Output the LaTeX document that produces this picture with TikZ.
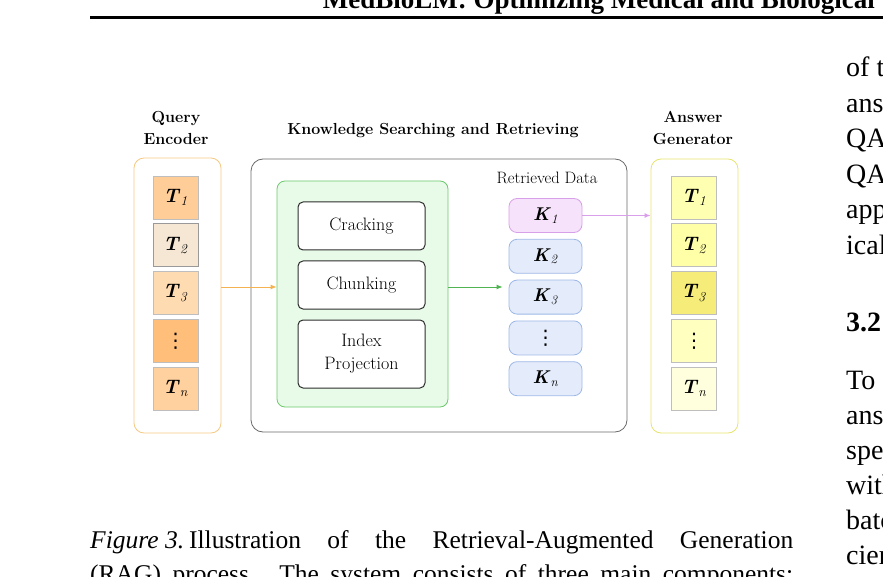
\documentclass[tikz,border=0pt]{standalone}
\usepackage{fontspec}
\usepackage{xcolor}
\usepackage{tikz}
\usetikzlibrary{arrows.meta,positioning}
\newfontfamily\paperfont{Liberation Serif}
\newfontfamily\symfont{DejaVu Sans}
\definecolor{qline}{RGB}{245,200,130}
\definecolor{aline}{RGB}{232,226,110}
\definecolor{tokline}{RGB}{190,190,190}
\definecolor{outerline}{RGB}{105,105,105}
\definecolor{greenline}{RGB}{110,200,110}
\definecolor{greenfill}{RGB}{232,251,232}
\definecolor{darkline}{RGB}{45,45,45}
\definecolor{kblue}{RGB}{228,235,250}
\definecolor{kblueline}{RGB}{158,184,232}
\definecolor{kpink}{RGB}{246,226,250}
\definecolor{kpinkline}{RGB}{215,160,232}
\definecolor{qone}{RGB}{255,205,152}
\definecolor{qtwo}{RGB}{245,231,212}
\definecolor{qthree}{RGB}{255,219,178}
\definecolor{qdots}{RGB}{255,190,122}
\definecolor{qn}{RGB}{255,209,158}
\definecolor{aone}{RGB}{255,255,178}
\definecolor{atwo}{RGB}{255,255,168}
\definecolor{athree}{RGB}{246,236,122}
\definecolor{adots}{RGB}{255,255,192}
\definecolor{an}{RGB}{255,255,222}
\definecolor{orangearrow}{RGB}{245,178,80}
\definecolor{greenarrow}{RGB}{80,180,80}
\definecolor{violetarrow}{RGB}{215,160,232}
\newcommand{\tok}[2]{\textbf{\textit{#1}}\textsubscript{\textit{#2}}}
\newcommand{\stackdots}{{\symfont\fontsize{20}{20}\selectfont ⋮}}
\tikzset{
 panel/.style={
 rectangle,
 rounded corners=10pt,
 line width=0.8pt,
 inner sep=0pt
 },
 token/.style={
 rectangle,
 draw=tokline,
 line width=0.8pt,
 minimum width=45pt,
 minimum height=43pt,
 inner sep=0pt,
 font=\fontsize{19.5}{22}\selectfont
 },
 stepbox/.style={
 rectangle,
 rounded corners=5pt,
 draw=darkline,
 fill=white,
 line width=1pt,
 minimum width=127pt,
 minimum height=48pt,
 align=center,
 font=\fontsize{18}{23}\selectfont
 },
 chunk/.style={
 rectangle,
 rounded corners=8pt,
 draw=kblueline,
 fill=kblue,
 line width=0.8pt,
 minimum width=73pt,
 minimum height=34pt,
 inner sep=0pt,
 font=\fontsize{18.5}{20}\selectfont
 },
 title/.style={align=center, font=\bfseries\fontsize{16}{22}\selectfont},
 paper/.style={anchor=base west, inner sep=0pt, font=\paperfont\fontsize{28}{35}\selectfont},
 capline/.style={anchor=base west, inner sep=0pt, font=\paperfont\fontsize{25.5}{30}\selectfont},
 link/.style={-{Latex[length=6pt,width=5pt]}, line width=1pt}
}
\begin{document}
\begin{tikzpicture}[x=1pt, y=-1pt]
 \useasboundingbox (0,0) rectangle (883,577);
 \clip (0,0) rectangle (883,577);

 % page around the figure
 \node[anchor=base east, inner sep=0pt, font=\paperfont\bfseries\fontsize{27}{30}\selectfont] (header) at (875,9) {MedBioLM: Optimizing Medical and Biological};
 \draw[line width=3pt] (90,17.5) -- (883,17.5);
 \node[paper] (col1) at (846,77) {of the};
 \node[paper] (col2) at (846,112.5) {answ};
 \node[paper] (col3) at (846,148) {QA};
 \node[paper] (col4) at (846,183.5) {QA};
 \node[paper] (col5) at (846,219) {appl};
 \node[paper] (col6) at (846,254.5) {ical};
 \node[paper, font=\paperfont\bfseries\fontsize{28}{35}\selectfont] (sec) at (846,331) {3.2};
 \node[paper] (col7) at (846,389) {To};
 \node[paper] (col8) at (846,424) {answ};
 \node[paper] (col9) at (846,459) {spec};
 \node[paper] (col10) at (846,494) {with};
 \node[paper] (col11) at (846,529) {batc};
 \node[paper] (col12) at (846,564) {cien};
 \node[capline] (cap1) at (90,548) {\makebox[703pt][s]{\mbox{\textit{Figure 3.}}\hspace{5pt}Illustration of the Retrieval-Augmented Generation}};
 \node[capline] (cap2) at (90,582) {\makebox[703pt][s]{(RAG) process. The system consists of three main components:}};

 % containers
 \node[panel, draw=qline, minimum width=87pt, minimum height=275pt] (query) at (177.5,295.5) {};
 \node[panel, draw=outerline, rounded corners=12pt, minimum width=376pt, minimum height=273pt] (search) at (439,295.5) {};
 \node[panel, draw=greenline, fill=greenfill, rounded corners=8pt, minimum width=171pt, minimum height=226pt] (green) at (362.5,294) {};
 \node[panel, draw=aline, minimum width=87pt, minimum height=274pt] (answer) at (694.5,296) {};

 \node[title] (qtitle) at (176,128) {Query\\Encoder};
 \node[title] (stitle) at (433,131) {Knowledge Searching and Retrieving};
 \node[title] (atitle) at (693,128) {Answer\\Generator};
 \node[font=\fontsize{16.5}{20}\selectfont] (rtitle) at (547,178) {Retrieved Data};

 % query tokens
 \node[token, fill=qone] (q1) at (175.5,197.5) {\tok{T}{1}};
 \node[token, fill=qtwo, draw=gray!80, below=4pt of q1] (q2) {\tok{T}{2}};
 \node[token, fill=qthree, below=4pt of q2] (q3) {\tok{T}{3}};
 \node[token, fill=qdots, below=4pt of q3] (q4) {\stackdots};
 \node[token, fill=qn, below=4pt of q4] (qn) {\tok{T}{n}};

 % processing steps
 \node[stepbox] (cracking) at (361.5,226) {Cracking};
 \node[stepbox, below=10pt of cracking] (chunking) {Chunking};
 \node[stepbox, minimum height=68pt, below=10pt of chunking] (index) {Index\\Projection};

 % retrieved chunks
 \node[chunk, fill=kpink, draw=kpinkline] (k1) at (545.5,215.5) {\tok{K}{1}};
 \node[chunk, below=6pt of k1] (k2) {\tok{K}{2}};
 \node[chunk, below=6pt of k2] (k3) {\tok{K}{3}};
 \node[chunk, below=6pt of k3] (k4) {\stackdots};
 \node[chunk, below=6pt of k4] (kn) {\tok{K}{n}};

 % answer tokens
 \node[token, fill=aone] (a1) at (694,197.5) {\tok{T}{1}};
 \node[token, fill=atwo, below=4pt of a1] (a2) {\tok{T}{2}};
 \node[token, fill=athree, below=4pt of a2] (a3) {\tok{T}{3}};
 \node[token, fill=adots, below=4pt of a3] (a4) {\stackdots};
 \node[token, fill=an, below=4pt of a4] (an) {\tok{T}{n}};

 \draw[link, draw=orangearrow] ([yshift=-2pt]query.east |- chunking) -- ([yshift=-2pt]green.west |- chunking);
 \draw[link, draw=greenarrow] ([yshift=-2pt]green.east |- chunking) -- ([xshift=-6pt, yshift=-2pt]k3.west |- chunking);
 \draw[link, draw=violetarrow] (k1) -- (answer.west |- k1);
\end{tikzpicture}
\end{document}
